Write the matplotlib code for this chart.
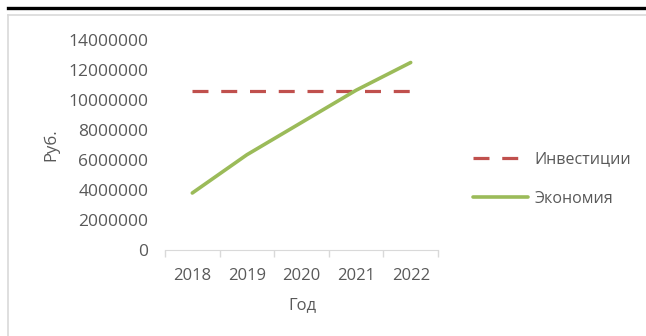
import matplotlib.pyplot as plt
from matplotlib.lines import Line2D

plt.rcParams['font.family'] = ['Open Sans', 'DejaVu Sans']

years = ['2018', '2019', '2020', '2021', '2022']
investments = [10600000, 10600000, 10600000, 10600000, 10600000]
savings = [3800000, 6350000, 8500000, 10650000, 12500000]
yticks = [0, 2000000, 4000000, 6000000, 8000000, 10000000, 12000000, 14000000]

W, H = 646, 336
fig = plt.figure(figsize=(W / 100, H / 100), dpi=100)
txt = '#595959'

# рамка в стиле Excel
fig.add_artist(Line2D([8 / W, 1], [1 - 7.5 / H] * 2, color='black', lw=2.4))
fig.add_artist(Line2D([8 / W, 1], [1 - 15 / H] * 2, color='#d9d9d9', lw=1.2))
fig.add_artist(Line2D([8 / W] * 2, [0, 1 - 15 / H], color='#d9d9d9', lw=1.2))

ax = fig.add_axes([165 / W, 1 - 250 / H, 273 / W, 210 / H])
x = list(range(len(years)))
ax.plot(x, investments, color='#C0504D', lw=2.3, linestyle=(0, (5, 4)), label='Инвестиции')
ax.plot(x, savings, color='#9BBB59', lw=2.6, solid_capstyle='round', label='Экономия')

ax.set_xlim(-0.5, 4.5)
ax.set_ylim(0, 14000000)
ax.set_yticks(yticks)
ax.set_yticklabels([str(v) for v in yticks])
ax.set_xticks(x)
ax.set_xticklabels(years)
ax.set_xticks([i - 0.5 for i in range(len(years) + 1)], minor=True)
ax.tick_params(axis='x', which='major', length=0, pad=13, labelsize=12, labelcolor=txt)
ax.tick_params(axis='x', which='minor', length=5, color='#d9d9d9', width=1)
ax.tick_params(axis='y', length=0, pad=12, labelsize=12.5, labelcolor=txt)
for s in ['top', 'right', 'left']:
    ax.spines[s].set_visible(False)
ax.spines['bottom'].set_color('#d9d9d9')

fig.text(51 / W, 1 - 145 / H, 'Руб.', rotation=90, ha='center', va='center', fontsize=12, color=txt)
fig.text(302 / W, 1 - 305 / H, 'Год', ha='center', va='center', fontsize=12, color=txt)

ax.legend(loc='center left', bbox_to_anchor=(459 / W, 1 - 179 / H), bbox_transform=fig.transFigure,
          frameon=False, fontsize=11.5, labelcolor=txt, handlelength=3.4, handletextpad=0.4,
          labelspacing=1.45)

fig.savefig('out.png', dpi=100)
